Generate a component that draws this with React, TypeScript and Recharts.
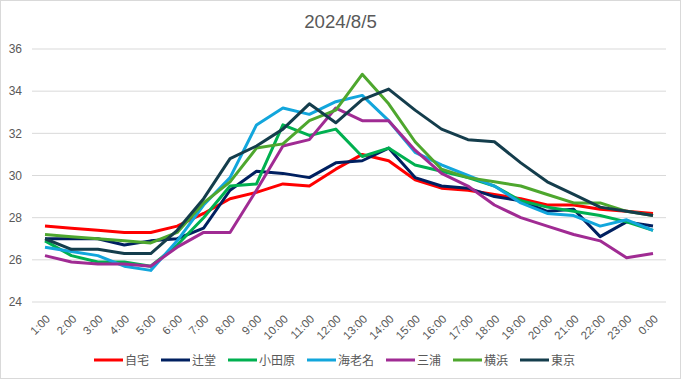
import { LineChart, Line, XAxis, YAxis, CartesianGrid, Legend } from 'recharts';

const hours = [
  '1:00', '2:00', '3:00', '4:00', '5:00', '6:00', '7:00', '8:00', '9:00', '10:00', '11:00', '12:00',
  '13:00', '14:00', '15:00', '16:00', '17:00', '18:00', '19:00', '20:00', '21:00', '22:00', '23:00', '0:00',
];

const jitaku = [27.6, 27.5, 27.4, 27.3, 27.3, 27.6, 28.2, 28.9, 29.2, 29.6, 29.5, 30.3, 31.0, 30.7, 29.8, 29.4, 29.3, 29.1, 28.9, 28.6, 28.6, 28.4, 28.3, 28.2];
const tsujido = [27.0, 27.0, 27.0, 26.7, 26.9, 27.0, 27.5, 29.3, 30.2, 30.1, 29.9, 30.6, 30.7, 31.3, 29.9, 29.5, 29.4, 29.0, 28.8, 28.3, 28.4, 27.1, 27.8, 27.6];
const odawara = [26.9, 26.2, 25.9, 25.9, 25.7, 26.7, 28.0, 29.5, 29.6, 32.4, 31.9, 32.2, 30.9, 31.3, 30.5, 30.2, 29.9, 29.5, 28.8, 28.5, 28.3, 28.1, 27.8, 27.4];
const ebina = [26.6, 26.4, 26.2, 25.7, 25.5, 26.9, 28.6, 29.9, 32.4, 33.2, 32.9, 33.5, 33.8, 32.6, 31.1, 30.5, 30.0, 29.5, 28.7, 28.2, 28.1, 27.6, 27.9, 27.4];
const miura = [26.2, 25.9, 25.8, 25.8, 25.7, 26.6, 27.3, 27.3, 29.3, 31.4, 31.7, 33.2, 32.6, 32.6, 31.2, 30.1, 29.5, 28.6, 28.0, 27.6, 27.2, 26.9, 26.1, 26.3];
const yokohama = [27.2, 27.1, 27.0, 26.9, 26.8, 27.3, 28.7, 29.7, 31.3, 31.5, 32.6, 33.1, 34.8, 33.4, 31.6, 30.3, 29.9, 29.7, 29.5, 29.1, 28.7, 28.7, 28.3, 28.1];
const tokyo = [27.0, 26.5, 26.5, 26.3, 26.3, 27.4, 28.9, 30.8, 31.4, 32.2, 33.4, 32.5, 33.6, 34.1, 33.1, 32.2, 31.7, 31.6, 30.6, 29.7, 29.1, 28.5, 28.3, 28.1];

const yTicks = [24, 26, 28, 30, 32, 34, 36];

const series = [
  { key: '自宅', values: jitaku, color: '#ff0000' },
  { key: '辻堂', values: tsujido, color: '#002060' },
  { key: '小田原', values: odawara, color: '#00b050' },
  { key: '海老名', values: ebina, color: '#12a6dc' },
  { key: '三浦', values: miura, color: '#a02b93' },
  { key: '横浜', values: yokohama, color: '#4ea72e' },
  { key: '東京', values: tokyo, color: '#143d4c' },
];

const data = hours.map((h, i) => {
  const row: Record<string, string | number> = { hour: h };
  series.forEach((s) => {
    row[s.key] = s.values[i];
  });
  return row;
});

const FONT = '"Liberation Sans", Arial, "Noto Sans CJK JP", sans-serif';
const TEXT = '#595959';

function HourTick({ x, y, payload }: any) {
  return (
    <g transform={`translate(${x},${y + 4})`}>
      <text
        textAnchor="end"
        transform="rotate(-45)"
        fontSize={11.5}
        fill={TEXT}
        fontFamily={FONT}
        dy="0.71em"
      >
        {payload.value}
      </text>
    </g>
  );
}

function LegendBox() {
  return (
    <div style={{ display: 'flex', justifyContent: 'center', fontFamily: FONT, fontSize: 12, color: TEXT }}>
      {series.map((s) => (
        <div key={s.key} style={{ display: 'flex', alignItems: 'center', marginRight: 12 }}>
          <svg width={29} height={4} style={{ marginRight: 2 }}>
            <line x1={0} y1={2} x2={29} y2={2} stroke={s.color} strokeWidth={3} strokeLinecap="round" />
          </svg>
          <span>{s.key}</span>
        </div>
      ))}
    </div>
  );
}

export default function App() {
  return (
    <div style={{ position: 'relative', width: 681, height: 379, background: '#fff', fontFamily: FONT }}>
      <style>{`body{margin:0}`}</style>
      <div
        style={{
          position: 'absolute',
          top: 11,
          left: 0,
          width: 681,
          textAlign: 'center',
          fontSize: 18.67,
          color: TEXT,
        }}
      >
        2024/8/5
      </div>
      <LineChart width={681} height={379} data={data} margin={{ top: 49, right: 15, bottom: 0, left: 0 }}>
        <CartesianGrid vertical={false} stroke="#d9d9d9" strokeWidth={1} />
        <XAxis
          dataKey="hour"
          interval={0}
          padding={{ left: 13, right: 13 }}
          axisLine={false}
          tickLine={false}
          tick={<HourTick />}
          height={77}
        />
        <YAxis
          domain={[24, 36]}
          ticks={yTicks}
          width={32}
          axisLine={false}
          tickLine={false}
          tickSize={0}
          tickMargin={10}
          tick={{ fontSize: 12, fill: TEXT, fontFamily: FONT }}
        />
        <Legend
          layout="horizontal"
          verticalAlign="middle"
          align="center"
          content={<LegendBox />}
          wrapperStyle={{ top: 351, left: 0, width: 681 }}
        />
        {series.map((s) => (
          <Line
            key={s.key}
            dataKey={s.key}
            stroke={s.color}
            strokeWidth={3}
            dot={false}
            activeDot={false}
            strokeLinejoin="round"
            isAnimationActive={false}
          />
        ))}
      </LineChart>
      <div
        style={{
          position: 'absolute',
          inset: 0,
          border: '1px solid #d9d9d9',
          pointerEvents: 'none',
        }}
      />
    </div>
  );
}
